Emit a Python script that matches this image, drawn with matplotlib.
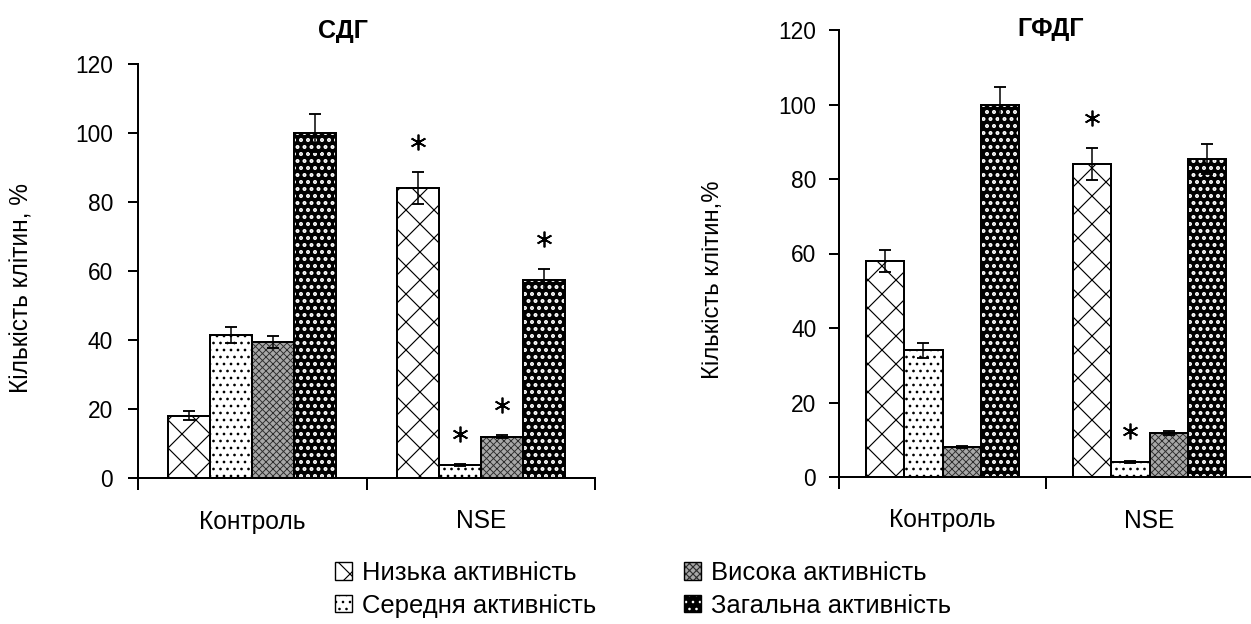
import numpy as np
import matplotlib
matplotlib.use("Agg")
import matplotlib.pyplot as plt
from matplotlib.patches import Patch
from matplotlib.transforms import offset_copy

DPI = 84
plt.rcParams['font.family'] = ['Liberation Sans', 'DejaVu Sans']
plt.rcParams['hatch.linewidth'] = 1.0

groups = ["Контроль", "NSE"]
series = ["Низька активність", "Середня активність",
          "Висока активність", "Загальна активність"]

# СДГ panel
sdg_control = [18, 41.5, 39.5, 100]
sdg_control_err = [1.3, 2.4, 1.7, 5.5]
sdg_nse = [84, 3.8, 12, 57.5]
sdg_nse_err = [4.6, 0.4, 0.5, 3.1]
sdg_nse_sig = [True, True, True, True]

# ГФДГ panel
gfdg_control = [58, 34, 8, 100]
gfdg_control_err = [3.0, 2.0, 0.3, 4.7]
gfdg_nse = [84, 4, 11.8, 85.4]
gfdg_nse_err = [4.3, 0.3, 0.5, 4.0]
gfdg_nse_sig = [True, True, False, False]

yticks = [0, 20, 40, 60, 80, 100, 120]

# face colour, hatch, hatch colour, hatch line width for each series
styles = [
    ("white", "x", "black", 1.0),
    ("white", "..", "black", 1.1),
    ("#a8a8a8", "xxxx", "#2e2e2e", 0.8),
    ("black", "..", "white", 2.2),
]

BAR_W = 0.184
EDGE_LW = 1.7


def hatched_bar(ax, x, h, style):
    face, hatch, hcol, hlw = style
    under = ax.bar(x, h, BAR_W, color=face, edgecolor=hcol, hatch=hatch,
                   linewidth=0, zorder=2)
    for b in under:
        if hasattr(b, "set_hatch_linewidth"):
            b.set_hatch_linewidth(hlw)
    ax.bar(x, h, BAR_W, fill=False, edgecolor="black", linewidth=EDGE_LW,
           zorder=3)


def panel(ax, control, control_err, nse, nse_err, nse_sig, ylab_pad):
    offsets = (np.arange(4) - 1.5) * BAR_W
    star_tr = offset_copy(ax.transData, fig=ax.figure, y=30, units="dots")
    for i in range(4):
        xs = np.array([0, 1]) + offsets[i]
        hs = [control[i], nse[i]]
        es = [control_err[i], nse_err[i]]
        hatched_bar(ax, xs, hs, styles[i])
        ax.errorbar(xs, hs, yerr=es, fmt="none", ecolor="black",
                    elinewidth=1.3, capsize=5, capthick=1.6, zorder=4)
        if nse_sig[i]:
            ax.plot([xs[1]], [nse[i] + nse_err[i]], linestyle="none",
                    marker=(6, 2, 0), markersize=13.5, mew=1.5,
                    color="black", transform=star_tr, clip_on=False)
    ax.set_xlim(-0.5, 1.5)
    ax.set_ylim(0, 120)
    for s in ("top", "right"):
        ax.spines[s].set_visible(False)
    for s in ("left", "bottom"):
        ax.spines[s].set_linewidth(EDGE_LW)
    ax.set_yticks(yticks)
    ax.tick_params(axis="y", direction="out", length=9, width=EDGE_LW,
                   labelsize=19.5, pad=ylab_pad)
    ax.set_xticks([-0.5, 0.5, 1.5])
    ax.set_xticklabels([])
    ax.tick_params(axis="x", which="major", direction="out", length=10,
                   width=EDGE_LW)
    ax.set_xticks([0, 1], minor=True)
    ax.set_xticklabels(groups, minor=True)
    ax.tick_params(axis="x", which="minor", length=0, labelsize=21, pad=27)


fig = plt.figure(figsize=(1251 / DPI, 624 / DPI), dpi=DPI)

ax1 = fig.add_axes([138 / 1251, 146 / 624, 457 / 1251, 414 / 624])
panel(ax1, sdg_control, sdg_control_err, sdg_nse, sdg_nse_err, sdg_nse_sig,
      12.5)
ax2 = fig.add_axes([839 / 1251, 147 / 624, 414 / 1251, 447 / 624])
panel(ax2, gfdg_control, gfdg_control_err, gfdg_nse, gfdg_nse_err,
      gfdg_nse_sig, 10.5)

fig.text(343 / 1251, 1 - 31 / 624, "СДГ", ha="center", va="center",
         fontsize=21.5, fontweight="bold")
fig.text(1051 / 1251, 1 - 29 / 624, "ГФДГ", ha="center", va="center",
         fontsize=21.5, fontweight="bold")
fig.text(22 / 1251, 1 - 288 / 624, "Кількість клітин, %", rotation=90,
         ha="center", va="center", fontsize=21)
fig.text(713 / 1251, 1 - 280 / 624, "Кількість клітин,%", rotation=90,
         ha="center", va="center", fontsize=20.5)

handles = []
for face, hatch, hcol, hlw in styles:
    under = Patch(facecolor=face, edgecolor=hcol, hatch=hatch, linewidth=0)
    if hasattr(under, "set_hatch_linewidth"):
        under.set_hatch_linewidth(hlw)
    over = Patch(fill=False, edgecolor="black", linewidth=1.2)
    handles.append((under, over))

fig.legend(handles, series, ncol=2, loc="upper left",
           bbox_to_anchor=(335 / 1251, 1 - 561 / 624), frameon=False,
           fontsize=22, handlelength=0.66, handleheight=0.66,
           handletextpad=0.4, columnspacing=3.4, labelspacing=0.34,
           borderpad=0, borderaxespad=0)

fig.savefig("out.png", dpi=DPI)
